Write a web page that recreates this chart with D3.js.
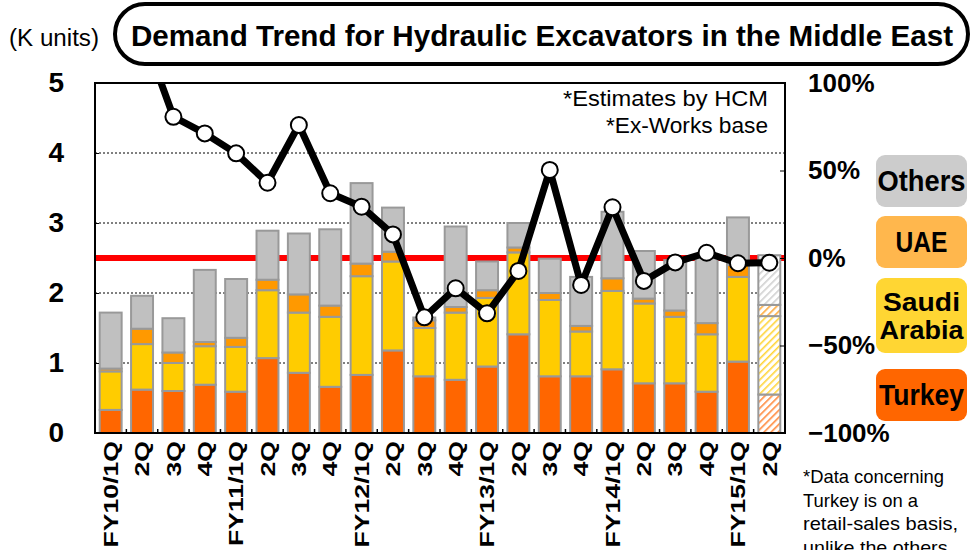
<!DOCTYPE html>
<html>
<head>
<meta charset="utf-8">
<script src="https://cdn.jsdelivr.net/npm/d3@7"></script>
<style>
  body { margin: 0; background: #fff; }
</style>
</head>
<body>
<div id="container"></div>
<script>
const WIDTH = 975,
  HEIGHT = 550,
  LEFT = 95, RIGHT = 785, TOP = 83, BOTTOM = 433;

// Data (K units, stacked) and YoY change (%)
const quarters = ["FY10/1Q","FY10/2Q","FY10/3Q","FY10/4Q","FY11/1Q","FY11/2Q","FY11/3Q","FY11/4Q",
  "FY12/1Q","FY12/2Q","FY12/3Q","FY12/4Q","FY13/1Q","FY13/2Q","FY13/3Q","FY13/4Q",
  "FY14/1Q","FY14/2Q","FY14/3Q","FY14/4Q","FY15/1Q","FY15/2Q"];
const tickLabels = ["FY10/1Q","2Q","3Q","4Q","FY11/1Q","2Q","3Q","4Q","FY12/1Q","2Q","3Q","4Q",
  "FY13/1Q","2Q","3Q","4Q","FY14/1Q","2Q","3Q","4Q","FY15/1Q","2Q"];
const turkey = [0.33,0.62,0.60,0.69,0.59,1.07,0.86,0.66,0.83,1.18,0.81,0.76,0.95,1.41,0.81,0.81,0.91,0.71,0.71,0.59,1.02,0.55];
const saudi  = [0.55,0.65,0.40,0.55,0.64,0.97,0.86,1.00,1.41,1.27,0.69,0.96,0.98,1.17,1.09,0.64,1.12,1.14,0.95,0.82,1.21,1.12];
const uae    = [0.04,0.22,0.15,0.06,0.13,0.15,0.26,0.16,0.18,0.14,0.11,0.08,0.11,0.07,0.10,0.08,0.18,0.07,0.09,0.16,0.17,0.16];
const others = [0.80,0.47,0.49,1.03,0.84,0.70,0.87,1.09,1.15,0.63,0.04,1.15,0.41,0.35,0.49,0.70,0.95,0.68,0.72,0.98,0.68,0.71];
const yoy = [150,130,80.7,71.2,59.8,43.0,76.0,37.0,29.3,13.5,-33.9,-17.3,-31.6,-7.4,50.3,-15.4,29.0,-13.1,-2.5,3.0,-3.0,-2.7];
const estimated = ["FY15/2Q"];

const keys = ["turkey","saudi","uae","others"];
const barColors = { turkey: "#FF6600", saudi: "#FFCC00", uae: "#FF9900", others: "#C0C0C0" };
const hatchColors = { turkey: "#FF8A3D", saudi: "#FFD53A", uae: "#FFAA3A", others: "#D0D0D0" };

const table = quarters.map((q, i) => ({
  q, turkey: turkey[i], saudi: saudi[i], uae: uae[i], others: others[i], yoy: yoy[i]
}));

const svg = d3.select("#container")
  .append("svg")
  .attr("width", WIDTH)
  .attr("height", HEIGHT)
  .style("font-family", "'Liberation Sans', Arial, sans-serif");

// Scales
const x = d3.scaleBand()
  .domain(quarters)
  .range([LEFT, RIGHT])
  .paddingInner(0.3)
  .paddingOuter(0.15);

const y = d3.scaleLinear().domain([0, 5]).range([BOTTOM, TOP]);
const yr = d3.scaleLinear().domain([-100, 100]).range([BOTTOM, TOP]);

// hatch patterns for the estimate
const defs = svg.append("defs");
keys.forEach(k => {
  const p = defs.append("pattern")
    .attr("id", "hatch-" + k)
    .attr("patternUnits", "userSpaceOnUse")
    .attr("width", 5).attr("height", 5)
    .attr("patternTransform", "rotate(-45)");
  p.append("rect").attr("width", 5).attr("height", 5).attr("fill", "#fff");
  p.append("rect").attr("width", 5).attr("height", 1.6).attr("fill", hatchColors[k]);
});
defs.append("clipPath").attr("id", "plot-clip")
  .append("rect").attr("x", LEFT).attr("y", TOP).attr("width", RIGHT - LEFT).attr("height", BOTTOM - TOP);

// Gridlines
svg.append("g")
  .selectAll("line")
  .data([1, 2, 3, 4])
  .join("line")
  .attr("x1", LEFT).attr("x2", RIGHT)
  .attr("y1", d => y(d)).attr("y2", d => y(d))
  .attr("stroke", "#000")
  .attr("stroke-width", 1)
  .attr("stroke-dasharray", "2,2");

// 0% reference line
svg.append("line")
  .attr("x1", LEFT).attr("x2", RIGHT)
  .attr("y1", yr(0)).attr("y2", yr(0))
  .attr("stroke", "#FF0000")
  .attr("stroke-width", 6);

// Stacked bars
const series = d3.stack().keys(keys)(table);
svg.append("g")
  .selectAll("g")
  .data(series)
  .join("g")
  .each(function (s) {
    d3.select(this).selectAll("rect")
      .data(s)
      .join("rect")
      .attr("x", d => x(d.data.q))
      .attr("width", x.bandwidth())
      .attr("y", d => y(d[1]))
      .attr("height", d => y(d[0]) - y(d[1]))
      .attr("fill", d => estimated.includes(d.data.q) ? `url(#hatch-${s.key})` : barColors[s.key])
      .attr("stroke", "#999")
      .attr("stroke-width", 2);
  });

// Frame
svg.append("rect")
  .attr("x", LEFT).attr("y", TOP)
  .attr("width", RIGHT - LEFT).attr("height", BOTTOM - TOP)
  .attr("fill", "none")
  .attr("stroke", "#000")
  .attr("stroke-width", 2);

// Category boundary ticks
svg.append("g")
  .selectAll("line")
  .data(quarters.slice(1))
  .join("line")
  .attr("x1", d => x(d) - x.step() * x.paddingInner() / 2)
  .attr("x2", d => x(d) - x.step() * x.paddingInner() / 2)
  .attr("y1", BOTTOM).attr("y2", BOTTOM - 4)
  .attr("stroke", "#000")
  .attr("stroke-width", 1.5);

// Axes
const fontAxis = "'Liberation Sans Narrow', 'Liberation Sans', Arial, sans-serif";

const yAxis = svg.append("g")
  .attr("transform", `translate(${LEFT},0)`)
  .call(d3.axisLeft(y).ticks(5).tickSize(-4).tickPadding(31));
yAxis.select(".domain").remove();
yAxis.selectAll("text")
  .attr("font-family", fontAxis)
  .attr("font-weight", "bold")
  .attr("font-size", 28)
  .attr("fill", "#000");

const yrAxis = svg.append("g")
  .attr("transform", `translate(${RIGHT},0)`)
  .call(d3.axisRight(yr).tickValues([-100, -50, 0, 50, 100]).tickSize(-5).tickPadding(23)
    .tickFormat(d => d3.format("d")(d) + "%"));
yrAxis.select(".domain").remove();
yrAxis.selectAll("text")
  .attr("font-family", fontAxis)
  .attr("font-weight", "bold")
  .attr("font-size", 26)
  .attr("fill", "#000");

const xAxis = svg.append("g")
  .attr("transform", `translate(0,${BOTTOM})`)
  .call(d3.axisBottom(x).tickSize(0).tickFormat((d, i) => tickLabels[i]));
xAxis.select(".domain").remove();
xAxis.selectAll("text")
  .attr("x", 0).attr("y", 0)
  .attr("dy", "0.36em")
  .attr("text-anchor", "end")
  .attr("transform", "translate(0,8) rotate(-90) scale(1.33,1)")
  .attr("font-family", "'Liberation Sans', Arial, sans-serif")
  .attr("font-weight", "bold")
  .attr("font-size", 20)
  .attr("fill", "#000");

// YoY line
const line = d3.line()
  .x(d => x(d.q) + x.bandwidth() / 2)
  .y(d => yr(d.yoy));

const lineG = svg.append("g").attr("clip-path", "url(#plot-clip)");
lineG.append("path")
  .datum(table)
  .attr("d", line)
  .attr("fill", "none")
  .attr("stroke", "#000")
  .attr("stroke-width", 7)
  .attr("stroke-linejoin", "round");
lineG.selectAll("circle")
  .data(table)
  .join("circle")
  .attr("cx", d => x(d.q) + x.bandwidth() / 2)
  .attr("cy", d => yr(d.yoy))
  .attr("r", 8)
  .attr("fill", "#fff")
  .attr("stroke", "#000")
  .attr("stroke-width", 2);

// Title
svg.append("rect")
  .attr("x", 115).attr("y", 4)
  .attr("width", 853).attr("height", 60)
  .attr("rx", 30)
  .attr("fill", "#fff")
  .attr("stroke", "#000")
  .attr("stroke-width", 4);
svg.append("text")
  .attr("x", 131).attr("y", 46)
  .attr("font-weight", "bold")
  .attr("font-size", 30)
  .attr("textLength", 822)
  .attr("lengthAdjust", "spacingAndGlyphs")
  .text("Demand Trend for Hydraulic Excavators in the Middle East");
svg.append("text")
  .attr("x", 9).attr("y", 46)
  .attr("font-size", 23)
  .attr("textLength", 90)
  .attr("lengthAdjust", "spacingAndGlyphs")
  .text("(K units)");

// Notes
const notes = [["*Estimates by HCM", 106, 205], ["*Ex-Works base", 133, 162]];
svg.append("g")
  .selectAll("text")
  .data(notes)
  .join("text")
  .attr("x", 768)
  .attr("y", d => d[1])
  .attr("text-anchor", "end")
  .attr("font-size", 22)
  .attr("textLength", d => d[2])
  .attr("lengthAdjust", "spacingAndGlyphs")
  .text(d => d[0]);

const footnote = [["*Data concerning", 141], ["Turkey is on a", 115], ["retail-sales basis,", 155], ["unlike the others.", 150]];
svg.append("g")
  .selectAll("text")
  .data(footnote)
  .join("text")
  .attr("x", 803)
  .attr("y", (d, i) => 483 + i * 23.5)
  .attr("font-size", 19)
  .attr("textLength", d => d[1])
  .attr("lengthAdjust", "spacingAndGlyphs")
  .text(d => d[0]);

// Legend
const legend = [
  { lines: ["Others"], lens: [88], fill: "#CCCCCC", y: 155, h: 52 },
  { lines: ["UAE"], lens: [52], fill: "#FFB74D", y: 216, h: 52 },
  { lines: ["Saudi", "Arabia"], lens: [77, 84], fill: "#FFD633", y: 278, h: 75 },
  { lines: ["Turkey"], lens: [85], fill: "#FF6600", y: 369, h: 52 }
];
const lg = svg.append("g")
  .selectAll("g")
  .data(legend)
  .join("g");
lg.append("rect")
  .attr("x", 876).attr("y", d => d.y)
  .attr("width", 91).attr("height", d => d.h)
  .attr("rx", 9)
  .attr("fill", d => d.fill);
lg.each(function (d) {
  const n = d.lines.length;
  d3.select(this).selectAll("text")
    .data(d.lines)
    .join("text")
    .attr("x", 921.5)
    .attr("y", (t, i) => d.y + d.h / 2 + (i - (n - 1) / 2) * 28)
    .attr("dy", "0.36em")
    .attr("text-anchor", "middle")
    .attr("font-weight", "bold")
    .attr("font-size", n > 1 ? 26 : 29)
    .attr("textLength", (t, i) => d.lens[i])
    .attr("lengthAdjust", "spacingAndGlyphs")
    .text(t => t);
});
</script>
</body>
</html>
